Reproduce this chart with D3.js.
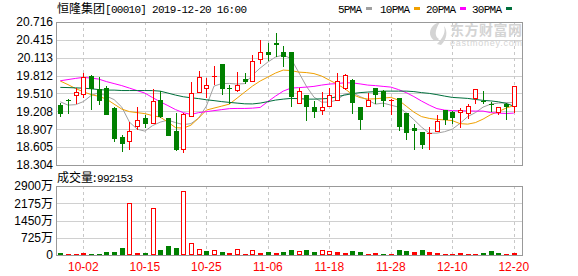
<!DOCTYPE html>
<html>
<head>
<meta charset="utf-8">
<script src="https://cdn.jsdelivr.net/npm/d3@7"></script>
<style>body{margin:0;background:#fff;}</style>
</head>
<body>
<div id="vis"></div>
<script>
// trading days, 2019-09-26 .. 2019-12-20
const dates = ["09-26","09-27","09-30","10-02","10-03","10-04","10-08","10-09","10-10","10-11",
  "10-14","10-15","10-16","10-17","10-18","10-21","10-22","10-23","10-24","10-25",
  "10-28","10-29","10-30","10-31","11-01","11-04","11-05","11-06","11-07","11-08",
  "11-11","11-12","11-13","11-14","11-15","11-18","11-19","11-20","11-21","11-22",
  "11-25","11-26","11-27","11-28","11-29","12-02","12-03","12-04","12-05","12-06",
  "12-09","12-10","12-11","12-12","12-13","12-16","12-17","12-18","12-19","12-20"];
const open = [19.31,19.40,19.46,19.48,19.81,19.59,19.60,19.26,18.77,18.69,
  18.94,19.09,19.00,19.40,19.09,18.88,18.56,19.11,19.51,19.59,
  19.79,20.01,19.60,19.55,19.75,19.71,20.07,20.21,20.36,20.21,
  20.21,19.34,19.48,19.28,19.21,19.29,19.39,19.59,19.74,19.28,
  19.29,19.60,19.55,19.39,19.44,19.18,18.93,18.86,18.83,18.86,
  19.24,19.20,19.18,19.16,19.41,19.38,19.34,19.18,19.34,19.29];
const high = [19.35,19.41,19.60,19.86,19.83,19.78,19.63,19.29,18.81,19.03,
  19.28,19.15,19.59,19.55,19.09,19.18,19.18,19.70,19.89,19.77,
  19.98,20.01,19.66,19.87,19.86,20.16,20.41,20.36,20.53,20.31,
  20.21,19.60,19.48,19.38,19.53,19.60,19.85,19.84,19.76,19.28,
  19.52,19.60,19.57,19.42,19.44,19.18,18.99,18.86,18.94,19.15,
  19.24,19.21,19.26,19.34,19.58,19.55,19.36,19.28,19.35,19.63];
const low = [19.12,19.17,19.33,19.43,19.23,19.31,19.15,18.70,18.52,18.56,
  18.90,18.93,19.00,19.10,18.79,18.54,18.50,19.11,19.51,19.43,
  19.66,19.49,19.34,19.54,19.67,19.70,20.01,20.06,20.12,19.95,
  19.28,19.34,19.04,19.09,19.15,19.29,19.39,19.57,19.17,18.90,
  19.29,19.34,19.29,19.14,18.87,18.73,18.55,18.57,18.55,18.86,
  18.98,18.99,18.93,19.08,19.34,19.34,19.20,19.15,19.07,19.18];
const close = [19.16,19.39,19.53,19.79,19.59,19.38,19.15,18.75,18.66,18.87,
  19.06,18.99,19.39,19.11,18.80,18.56,19.16,19.52,19.78,19.66,
  19.80,19.58,19.59,19.66,19.70,20.05,20.21,20.16,20.32,20.12,
  19.45,19.56,19.28,19.20,19.28,19.49,19.72,19.83,19.35,19.07,
  19.40,19.49,19.39,19.40,18.95,18.85,18.88,18.64,18.85,19.04,
  19.06,19.09,19.24,19.30,19.58,19.36,19.33,19.28,19.29,19.63];
const prevClose = 19.30;
const volume = [1040000,630000,630000,900000,630000,630000,1460000,1460000,2850000,21700000,
  1040000,1040000,19700000,2010000,3680000,2850000,26800000,5150000,2710000,1880000,
  2150000,1460000,1040000,2570000,630000,2150000,1040000,1460000,1040000,1460000,
  2290000,1800000,2290000,1460000,2200000,1880000,1460000,1040000,1880000,1460000,
  630000,1040000,630000,630000,2290000,1880000,1460000,2290000,1460000,1040000,
  630000,630000,1040000,630000,630000,1040000,1880000,1040000,630000,992153];
const ma5 = [19.370,19.314,19.322,19.373,19.475,19.525,19.466,19.407,19.280,19.027,
  18.909,18.875,18.968,19.027,19.061,19.019,18.985,19.002,19.095,19.297,
  19.635,19.677,19.680,19.669,19.677,19.821,19.939,20.040,20.125,20.159,
  20.100,19.871,19.635,19.449,19.365,19.365,19.399,19.500,19.525,19.458,
  19.399,19.331,19.348,19.314,19.280,19.187,19.069,18.943,18.841,18.841,
  18.866,18.909,19.005,19.120,19.187,19.280,19.331,19.348,19.356,19.356];
const ma10 = [19.720,19.660,19.593,19.539,19.492,19.462,19.416,19.331,19.247,19.204,
  19.187,19.171,19.137,19.112,19.027,18.934,18.926,18.976,19.095,19.230,
  19.264,19.297,19.331,19.432,19.534,19.635,19.720,19.787,19.855,19.905,
  19.897,19.871,19.863,19.846,19.804,19.736,19.669,19.593,19.492,19.441,
  19.416,19.421,19.432,19.444,19.399,19.297,19.196,19.120,19.090,19.073,
  19.065,19.053,19.002,18.993,19.019,19.078,19.153,19.205,19.264,19.306];
const ma20 = [19.725,19.745,19.765,19.782,19.770,19.753,19.711,19.677,19.643,19.601,
  19.559,19.517,19.441,19.370,19.306,19.238,19.187,19.157,19.187,19.204,
  19.221,19.238,19.255,19.258,19.258,19.263,19.275,19.373,19.466,19.550,
  19.601,19.609,19.618,19.630,19.652,19.669,19.677,19.691,19.689,19.672,
  19.652,19.643,19.630,19.618,19.576,19.525,19.458,19.382,19.314,19.255,
  19.230,19.221,19.218,19.216,19.213,19.213,19.187,19.179,19.173,19.179];
const ma30 = [19.613,19.610,19.605,19.600,19.590,19.576,19.567,19.567,19.560,19.560,
  19.560,19.560,19.559,19.550,19.517,19.483,19.455,19.438,19.424,19.404,
  19.390,19.373,19.360,19.348,19.336,19.334,19.348,19.373,19.399,19.415,
  19.427,19.424,19.415,19.415,19.420,19.427,19.457,19.483,19.508,19.525,
  19.534,19.542,19.550,19.550,19.550,19.550,19.542,19.525,19.512,19.491,
  19.466,19.444,19.436,19.427,19.410,19.394,19.385,19.370,19.343,19.297];
const priceTicks = [18.304,18.605,18.907,19.208,19.510,19.812,20.113,20.415,20.716];
const volTicks = [0,7250000,14500000,21750000,29000000];
const dateTicks = ["10-02","10-15","10-25","11-06","11-18","11-28","12-10","12-20"];
const maNames = ["5PMA","10PMA","20PMA","30PMA"];

const red = "#ff0000", green = "#008000";
const maColors = ["#a0a0a0","#f0a000","#ff00ff","#006f3c"];
const sans = '"Liberation Sans", Arial, "Noto Sans CJK SC", sans-serif';
const cjk = '"Noto Sans CJK SC", sans-serif';
const mono = '"Liberation Mono", monospace';

const svg = d3.select("#vis").append("svg")
  .attr("width", 578).attr("height", 276).style("display", "block");

const left = 56, right = 522, pTop = 22, pBot = 165, vTop = 186, vBot = 255;
const x = d3.scalePoint().domain(dates).range([60.3, 513.8]);
const y = d3.scaleLinear().domain([18.304, 20.716]).range([pBot, pTop]);
const yv = d3.scaleLinear().domain([0, 29000000]).range([vBot, vTop]);
const px = v => Math.round(v) + 0.5;

// grids
const grid = svg.append("g");
grid.selectAll(".hp").data(priceTicks).enter().append("line")
  .attr("x1", left).attr("x2", right)
  .attr("y1", d => px(y(d))).attr("y2", d => px(y(d)))
  .attr("stroke", "#d0d0d0");
grid.selectAll(".hv").data(volTicks).enter().append("line")
  .attr("x1", left).attr("x2", right)
  .attr("y1", d => px(yv(d))).attr("y2", d => px(yv(d)))
  .attr("stroke", "#d0d0d0");
[[pTop, pBot], [vTop, vBot]].forEach(r => {
  grid.selectAll(null).data(dateTicks).enter().append("line")
    .attr("x1", d => px(x(d))).attr("x2", d => px(x(d)))
    .attr("y1", r[0]).attr("y2", r[1])
    .attr("stroke", "#c8c8c8").attr("stroke-dasharray", "3,3");
});

// watermark
const wm = svg.append("g").attr("fill", "#d4d4d4");
wm.append("path")
  .attr("d", "M440,22 C432,24 428,31 431,37 C433,41 437,42 439,39 C435,37 434,31 440,22 Z M444,26 C446,32 443,38 437,44 L441,45 C447,39 448,31 444,26 Z");
wm.append("text").attr("x", 450).attr("y", 35).style("font-family", cjk)
  .style("font-size", "14px").style("font-weight", "bold").attr("textLength", 72).text("东方财富网");
wm.append("text").attr("x", 450).attr("y", 46).style("font-family", sans)
  .style("font-size", "9px").attr("textLength", 72).text("eastmoney.com");

// moving averages
const line = d3.line().x((d, i) => x(dates[i])).y(d => y(d));
[ma5, ma10, ma20, ma30].forEach((s, k) => {
  svg.append("path").attr("d", line(s)).attr("fill", "none")
    .attr("stroke", maColors[k]).attr("stroke-width", 1);
});

// candles
const kg = svg.append("g");
dates.forEach((d, i) => {
  const cx = Math.round(x(d));
  const up = close[i] >= open[i];
  const top = Math.round(y(Math.max(open[i], close[i])));
  const bot = Math.round(y(Math.min(open[i], close[i])));
  const hi = Math.round(y(high[i])), lo = Math.round(y(low[i]));
  if (up) {
    if (top > hi) kg.append("line").attr("x1", cx + 0.5).attr("x2", cx + 0.5).attr("y1", hi).attr("y2", top).attr("stroke", red);
    if (lo > bot) kg.append("line").attr("x1", cx + 0.5).attr("x2", cx + 0.5).attr("y1", bot).attr("y2", lo).attr("stroke", red);
    if (bot - top < 2) {
      kg.append("line").attr("x1", cx - 2).attr("x2", cx + 3).attr("y1", top + 0.5).attr("y2", top + 0.5).attr("stroke", red);
    } else {
      kg.append("rect").attr("x", cx - 1.5).attr("y", top + 0.5).attr("width", 4).attr("height", bot - top - 1)
        .attr("fill", "#fff").attr("stroke", red);
    }
  } else {
    kg.append("line").attr("x1", cx + 0.5).attr("x2", cx + 0.5).attr("y1", hi).attr("y2", lo).attr("stroke", green);
    kg.append("rect").attr("x", cx - 2).attr("y", top).attr("width", 5).attr("height", Math.max(1, bot - top))
      .attr("fill", green);
  }
});

// volume bars, coloured by change against previous close
const vg = svg.append("g");
dates.forEach((d, i) => {
  const cx = Math.round(x(d));
  const up = close[i] >= (i ? close[i - 1] : prevClose);
  const top = Math.round(yv(volume[i]));
  const h = vBot - top;
  if (!up) {
    vg.append("rect").attr("x", cx - 2).attr("y", top).attr("width", 5).attr("height", h).attr("fill", green);
  } else if (h <= 3) {
    vg.append("rect").attr("x", cx - 2).attr("y", top).attr("width", 5).attr("height", h).attr("fill", red);
  } else {
    vg.append("rect").attr("x", cx - 1.5).attr("y", top + 0.5).attr("width", 4).attr("height", h - 1)
      .attr("fill", "#fff").attr("stroke", red);
  }
});

// frames
svg.append("rect").attr("x", left + 0.5).attr("y", pTop + 0.5).attr("width", right - left).attr("height", pBot - pTop)
  .attr("fill", "none").attr("stroke", "#999");
svg.append("rect").attr("x", left + 0.5).attr("y", vTop + 0.5).attr("width", right - left).attr("height", vBot - vTop)
  .attr("fill", "none").attr("stroke", "#999");

// axis labels
svg.selectAll(".pl").data(priceTicks).enter().append("text")
  .attr("x", 53).attr("y", d => y(d)).attr("dy", "0.36em").attr("text-anchor", "end")
  .style("font-family", sans).style("font-size", "12px").attr("fill", "#000")
  .text(d => d.toFixed(3));
svg.selectAll(".vl").data(volTicks).enter().append("text")
  .attr("x", 53).attr("y", d => yv(d)).attr("dy", "0.36em").attr("text-anchor", "end")
  .style("font-family", sans).style("font-size", "12px").attr("fill", "#000")
  .text(d => d ? (d / 10000) + "万" : "0");
svg.selectAll(".dl").data(dateTicks).enter().append("text")
  .attr("x", d => x(d)).attr("y", 271).attr("text-anchor", "middle")
  .style("font-family", sans).style("font-size", "12px").attr("fill", red)
  .text(d => d);

// title
svg.append("text").attr("x", 57).attr("y", 13).style("font-family", cjk).style("font-size", "12px")
  .attr("fill", "#000").text("恒隆集团");
svg.append("text").attr("x", 105).attr("y", 13).style("font-family", mono).style("font-size", "11px")
  .attr("textLength", 142).attr("fill", "#000").text("[00010] 2019-12-20 16:00");

// legend
const lx = [338, 380, 426, 472];
maNames.forEach((n, k) => {
  svg.append("text").attr("x", lx[k]).attr("y", 13).style("font-family", mono).style("font-size", "11px")
    .attr("textLength", n.length * 6).attr("fill", "#000").text(n);
  svg.append("rect").attr("x", lx[k] + n.length * 6 + 4).attr("y", 7).attr("width", 6).attr("height", 3)
    .attr("fill", maColors[k]);
});

// volume caption
svg.append("text").attr("x", 57).attr("y", 182).style("font-family", cjk).style("font-size", "12px")
  .attr("fill", "#000").text("成交量:");
svg.append("text").attr("x", 97).attr("y", 182).style("font-family", mono).style("font-size", "11px")
  .attr("textLength", 36).attr("fill", "#000").text(volume[volume.length - 1]);
</script>
</body>
</html>
